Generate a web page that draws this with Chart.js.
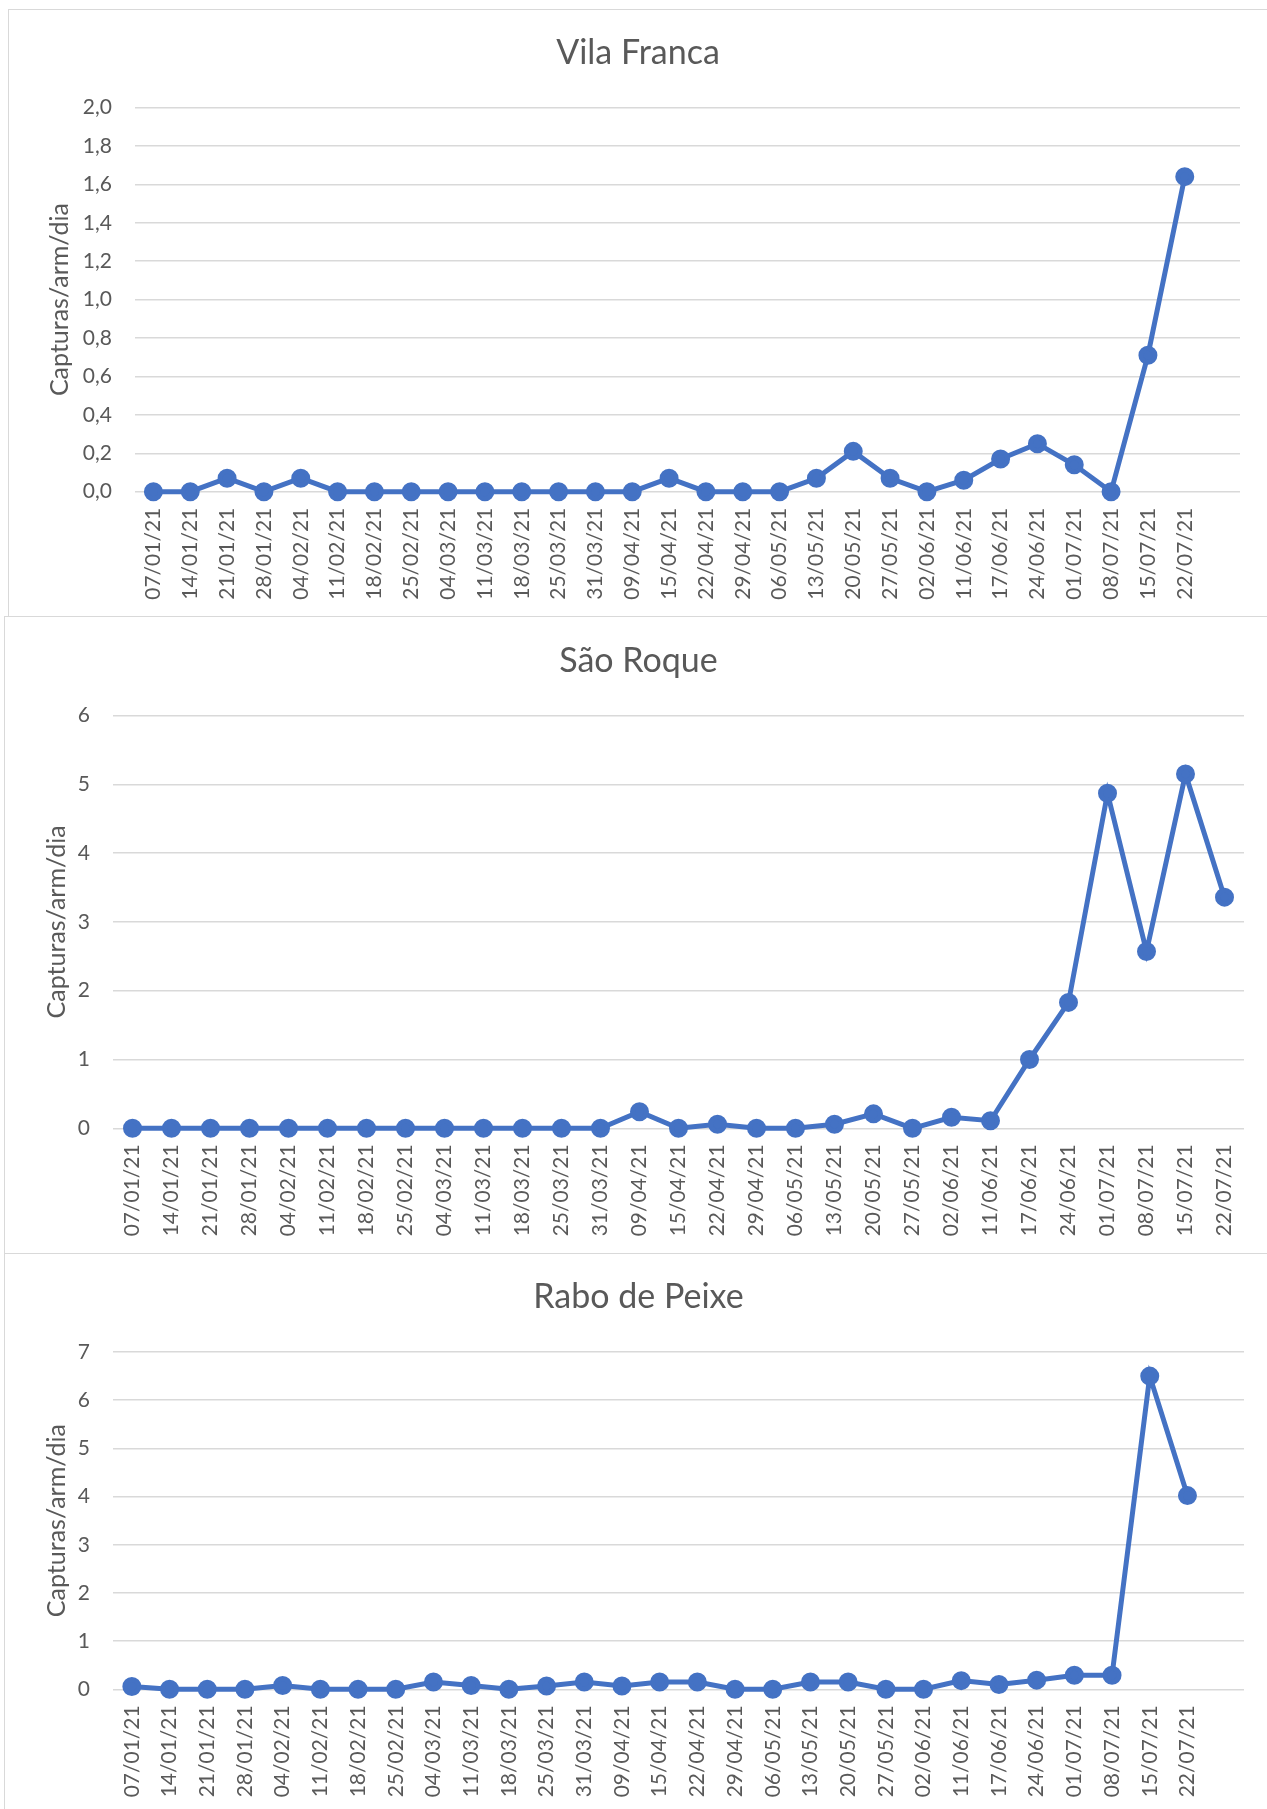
<!DOCTYPE html>
<html>
<head>
<meta charset="utf-8">
<title>Capturas/arm/dia</title>
<script src="https://cdn.jsdelivr.net/npm/chart.js"></script>
<style>
  html, body { margin: 0; padding: 0; background: #fff; width: 1267px; height: 1809px; overflow: hidden; }
  .panel { position: absolute; box-sizing: border-box; border: 1.5px solid #d9d9d9; }
  canvas { position: absolute; }
</style>
</head>
<body>

<!-- chart frames -->
<div class="panel" style="left:8px; top:9px; width:1270px; height:608px;"></div>
<div class="panel" style="left:4px; top:616px; width:1274px; height:638px;"></div>
<div class="panel" style="left:4px; top:1253px; width:1274px; height:600px;"></div>

<canvas id="vilaFranca" width="1260" height="607" style="left:8px; top:9px;"></canvas>
<canvas id="saoRoque" width="1269" height="637" style="left:4px; top:616px;"></canvas>
<canvas id="raboDePeixe" width="1269" height="560" style="left:4px; top:1253px;"></canvas>

<script>
// =================[Data]=============
const dates = [
    '07/01/21', '14/01/21', '21/01/21', '28/01/21', '04/02/21', '11/02/21',
    '18/02/21', '25/02/21', '04/03/21', '11/03/21', '18/03/21', '25/03/21',
    '31/03/21', '09/04/21', '15/04/21', '22/04/21', '29/04/21', '06/05/21',
    '13/05/21', '20/05/21', '27/05/21', '02/06/21', '11/06/21', '17/06/21',
    '24/06/21', '01/07/21', '08/07/21', '15/07/21', '22/07/21'
];

const vilaFranca = [
    0, 0, 0.07, 0, 0.07, 0, 0, 0, 0, 0, 0, 0, 0, 0, 0.07,
    0, 0, 0, 0.07, 0.21, 0.07, 0, 0.06, 0.17, 0.25, 0.14, 0, 0.71, 1.64
];

const saoRoque = [
    0, 0, 0, 0, 0, 0, 0, 0, 0, 0, 0, 0, 0, 0.24, 0,
    0.06, 0, 0, 0.06, 0.21, 0, 0.16, 0.11, 1.0, 1.83, 4.87, 2.57, 5.15, 3.36
];

const raboDePeixe = [
    0.06, 0, 0, 0, 0.08, 0, 0, 0, 0.15, 0.08, 0, 0.07, 0.15, 0.07, 0.15,
    0.15, 0, 0, 0.15, 0.15, 0, 0, 0.18, 0.10, 0.19, 0.29, 0.29, 6.5, 4.02
];

// Vila Franca and Rabo de Peixe keep one empty slot after 22/07
const datesWithGap = dates.concat(['']);

// =================[Look]=============
const textGray = '#595959';
const gridGray = '#d9d9d9';
const lineBlue = '#4472c4';

Chart.defaults.font.family = 'Lato, "Open Sans", sans-serif';
Chart.defaults.color = textGray;

const commaDecimal = v => v.toFixed(1).replace('.', ',');
const plainNumber = v => String(v);

// =================[One line chart]=============
// box.left is layout padding, it also moves the centre of the title
function lineChart(id, title, labels, values, yMax, yStep, fmt, box) {
    return new Chart(document.getElementById(id), {
        type: 'line',
        data: {
            labels: labels,
            datasets: [{
                data: values,
                borderColor: lineBlue,
                backgroundColor: lineBlue,
                borderWidth: 5,
                pointRadius: 7,
                pointHoverRadius: 7,
                tension: 0,
                clip: false
            }]
        },
        options: {
            responsive: false,
            animation: false,
            layout: { padding: { left: box.left, right: box.right, top: 0, bottom: 0 } },
            plugins: {
                legend: { display: false },
                tooltip: { enabled: false },
                title: {
                    display: true,
                    text: title,
                    color: textGray,
                    font: { size: 34, weight: 'normal' },
                    padding: { top: box.titleTop, bottom: box.titleBottom }
                }
            },
            scales: {
                x: {
                    offset: true,
                    grid: { display: false, drawTicks: false },
                    border: { display: false },
                    ticks: { autoSkip: false, minRotation: 90, maxRotation: 90, padding: 16, font: { size: 21 } },
                    afterFit: s => { s.height = box.xHeight; }
                },
                y: {
                    min: 0,
                    max: yMax,
                    ticks: { stepSize: yStep, padding: 23, font: { size: 21 }, callback: fmt },
                    grid: { color: gridGray, lineWidth: 1.5, drawTicks: false },
                    border: { display: false },
                    title: {
                        display: true,
                        text: 'Capturas/arm/dia',
                        color: textGray,
                        font: { size: 25 },
                        padding: { top: box.yTitle, bottom: 0 }
                    },
                    afterFit: s => { s.width = box.yWidth; }
                }
            }
        }
    });
}

// =================[Charts]=============
lineChart('vilaFranca', 'Vila Franca', datesWithGap, vilaFranca, 2, 0.2, commaDecimal, {
    left: 28, right: 28, yWidth: 99, xHeight: 124.3, titleTop: 23.6, titleBottom: 34.1, yTitle: 9
});

lineChart('saoRoque', 'São Roque', dates, saoRoque, 6, 1, plainNumber, {
    left: 29, right: 29, yWidth: 80, xHeight: 124.7, titleTop: 24.6, titleBottom: 34.1, yTitle: 8.7
});

lineChart('raboDePeixe', 'Rabo de Peixe', datesWithGap, raboDePeixe, 7, 1, plainNumber, {
    left: 29, right: 29, yWidth: 80, xHeight: 123.7, titleTop: 23.6, titleBottom: 34.6, yTitle: 8.7
});
</script>
</body>
</html>
